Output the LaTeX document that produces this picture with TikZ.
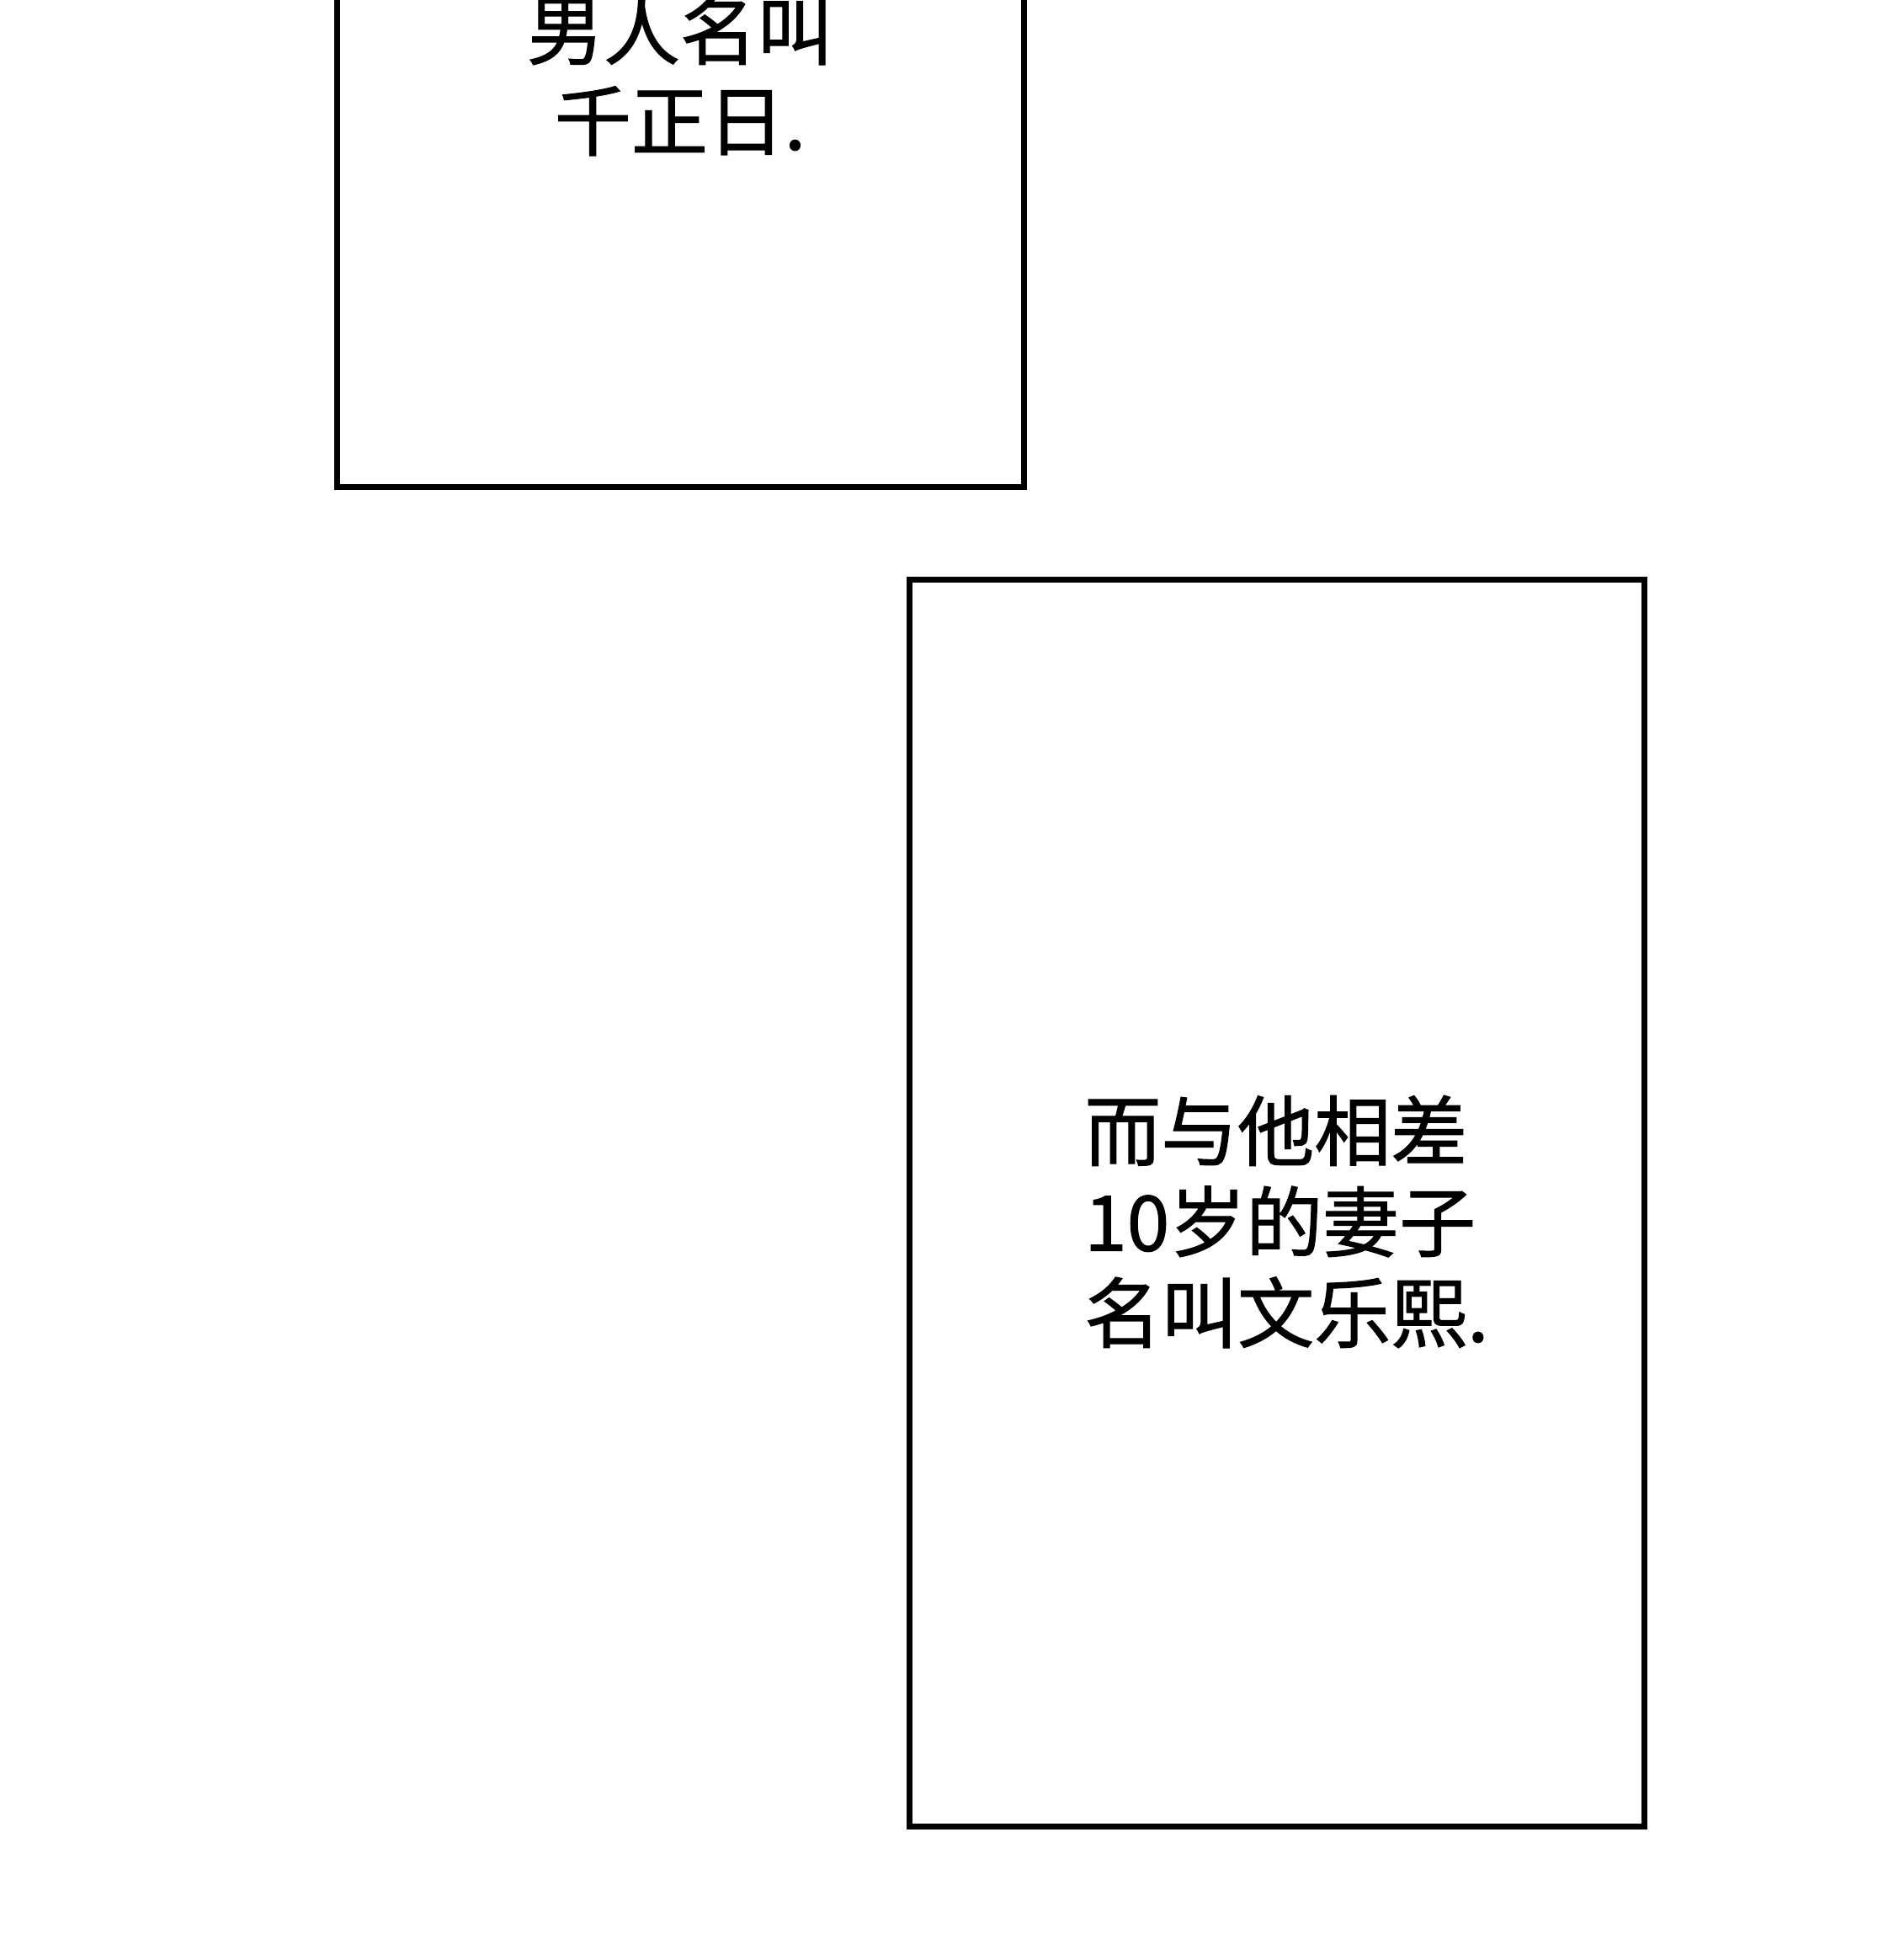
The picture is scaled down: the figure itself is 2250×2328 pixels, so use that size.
\documentclass[tikz,border=0pt]{standalone}
\usepackage{fontspec}
\newfontfamily\cjk{Noto Sans CJK SC}[FakeBold=1.2]
\tikzset{
  panel/.style={draw=black, line width=7pt, line join=miter},
  caption/.style={font=\cjk\fontsize{91}{108}\selectfont, inner sep=0pt, text=black}
}
\begin{document}
\begin{tikzpicture}[x=1pt,y=-1pt]
\useasboundingbox[fill=white] (0,0) rectangle (2250,2328);
\begin{scope}
\clip (0,0) rectangle (2250,2328);
\draw[panel] (400,-40) rectangle (1216,578);
\end{scope}
\draw[panel] (1080,688) rectangle (1953,2169);
\node[caption, align=center] (t1) at (808,89) {男人名叫\\千正日.};
\node[caption, align=left, anchor=west] (t2) at (1288,1451) {而与他相差\\10岁的妻子\\名叫文乐熙.};
\end{tikzpicture}
\end{document}
